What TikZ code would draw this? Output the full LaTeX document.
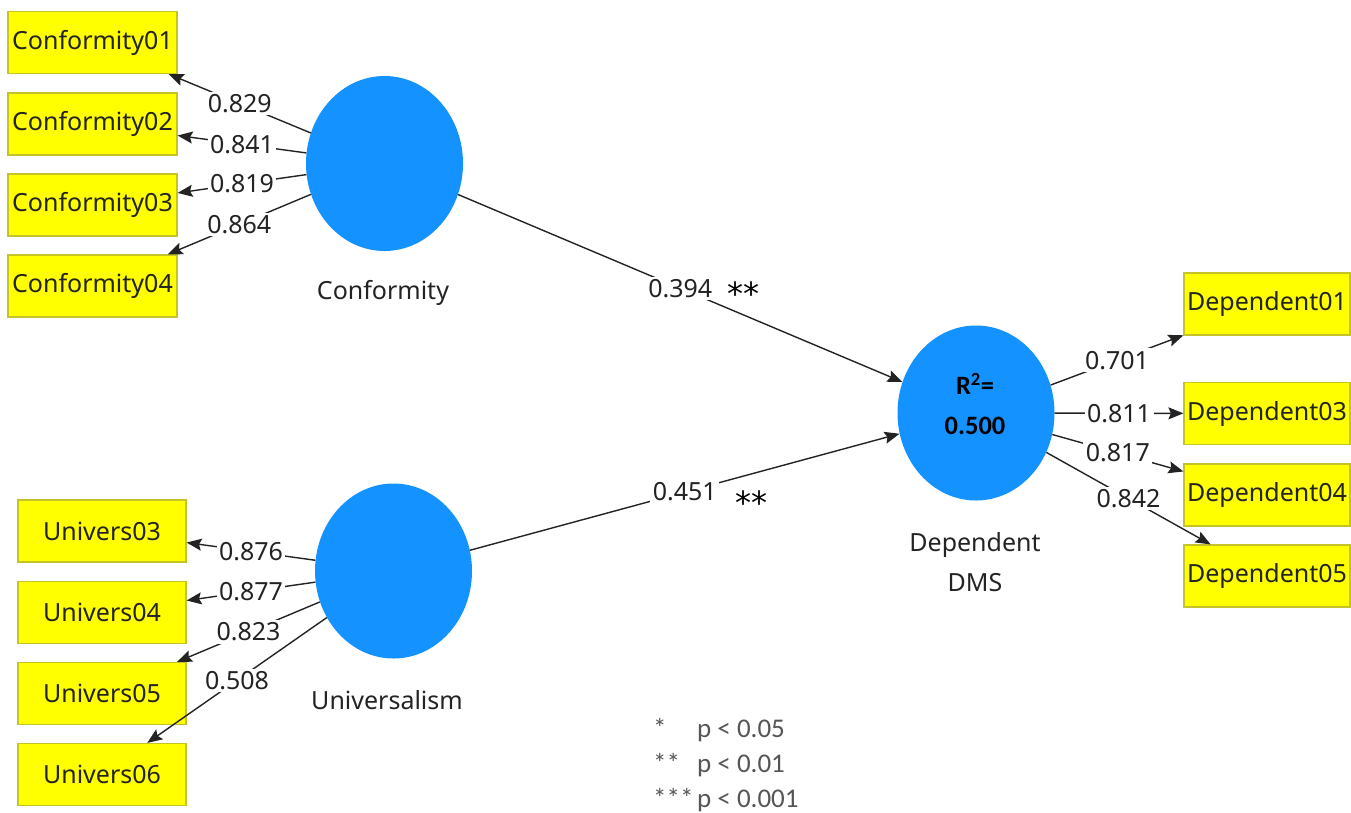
\documentclass[tikz,border=0pt]{standalone}
\usepackage{fontspec}
\setmainfont{Noto Sans}
\newfontfamily\calfont{Carlito}
\newfontfamily\starfont{DejaVu Sans}
\usetikzlibrary{shapes.geometric,arrows.meta}
\definecolor{latentblue}{RGB}{20,146,255}
\definecolor{itemyellow}{RGB}{255,255,0}
\definecolor{itemborder}{RGB}{196,196,40}
\definecolor{ink}{RGB}{35,35,35}
\definecolor{legendgray}{RGB}{85,85,85}

\begin{document}
\begin{tikzpicture}[x=1pt,y=-1pt,
  indicator/.style={draw=itemborder, line width=1.2pt, fill=itemyellow,
    minimum height=62pt, inner sep=0pt, text=ink,
    font=\fontsize{25}{30}\selectfont},
  latent/.style={ellipse, fill=latentblue, minimum width=157pt,
    minimum height=175pt, inner sep=0pt},
  caption/.style={text=ink, font=\fontsize{25}{40}\selectfont, align=center},
  link/.style={draw=ink, line width=1.4pt,
    -{Stealth[length=15pt,width=12pt,inset=2.5pt]}},
  weight/.style={fill=white, inner sep=2.5pt, text=ink,
    font=\fontsize{25}{30}\selectfont},
  stars/.style={text=black, font=\starfont\fontsize{32}{32}\selectfont},
  legendrow/.style={anchor=base west, inner sep=0pt, text=legendgray,
    font=\calfont\fontsize{27}{30}\selectfont},
]
\useasboundingbox (0,0) rectangle (1351,812);
\clip (0,0) rectangle (1351,812);

% latent variables
\node[latent] (conf) at (384.5,163.5) {};
\node[latent] (univ) at (393.5,571) {};
\node[latent] (dep)  at (976,413) {};
\node[text=black, align=center, font=\calfont\bfseries\fontsize{26.5}{40}\selectfont]
  (r2) at (975,404) {R\textsuperscript{2}=\\0.500};

\node[caption] (confcap) at (383,293) {Conformity};
\node[caption] (univcap) at (387,700) {Universalism};
\node[caption] (depcap)  at (975,562) {Dependent\\DMS};

% indicators
\node[indicator, minimum width=169pt] (c1) at (92.5,42.5) {Conformity01};
\node[indicator, minimum width=169pt] (c2) at (92.5,124) {Conformity02};
\node[indicator, minimum width=169pt] (c3) at (92.5,205) {Conformity03};
\node[indicator, minimum width=169pt] (c4) at (92.5,286) {Conformity04};

\node[indicator, minimum width=168pt] (u3) at (102,531) {Univers03};
\node[indicator, minimum width=168pt] (u4) at (102,612.5) {Univers04};
\node[indicator, minimum width=168pt] (u5) at (102,693.5) {Univers05};
\node[indicator, minimum width=168pt] (u6) at (102,774.5) {Univers06};

\node[indicator, minimum width=166pt] (d1) at (1267,304) {Dependent01};
\node[indicator, minimum width=166pt] (d3) at (1267,413.5) {Dependent03};
\node[indicator, minimum width=166pt] (d4) at (1267,495) {Dependent04};
\node[indicator, minimum width=166pt] (d5) at (1267,576) {Dependent05};

% outer loadings
\draw[link] (conf) -- node[weight]{0.829} (c1);
\draw[link] (conf) -- node[weight]{0.841} (c2);
\draw[link] (conf) -- node[weight]{0.819} (c3);
\draw[link] (conf) -- node[weight]{0.864} (c4);

\draw[link] (univ) -- node[weight]{0.876} (u3);
\draw[link] (univ) -- node[weight]{0.877} (u4);
\draw[link] (univ) -- node[weight]{0.823} (u5);
\draw[link] (univ) -- node[weight]{0.508} (u6);

\draw[link] (dep) -- node[weight]{0.701} (d1);
\draw[link] (dep) -- node[weight]{0.811} (d3);
\draw[link] (dep) -- node[weight]{0.817} (d4);
\draw[link] (dep) -- node[weight]{0.842} (d5);

% path coefficients
\draw[link] (conf) -- node[weight]{0.394} (dep);
\draw[link] (univ) -- node[weight]{0.451} (dep);
\node[stars] (s1) at (743,294) {**};
\node[stars] (s2) at (751,503) {**};

% significance legend
\node[legendrow] (leg1) at (653,737) {\makebox[44pt][l]{*}p < 0.05};
\node[legendrow] (leg2) at (653,772) {\makebox[44pt][l]{**}p < 0.01};
\node[legendrow] (leg3) at (653,807) {\makebox[44pt][l]{***}p < 0.001};
\end{tikzpicture}
\end{document}
